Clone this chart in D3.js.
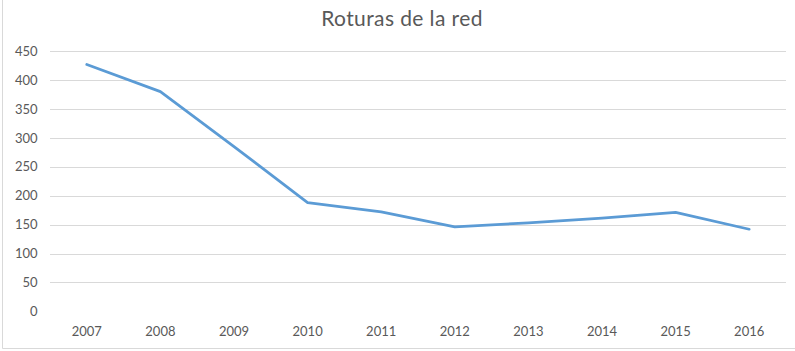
<!DOCTYPE html>
<html>
<head>
<meta charset="utf-8">
<script src="https://cdn.jsdelivr.net/npm/d3@7"></script>
<style>
  html, body { margin: 0; padding: 0; background: #fff; }
  svg { display: block; }
</style>
</head>
<body>
<svg id="chart" width="795" height="351"></svg>
<script>
// Annual network breaks (roturas de la red)
const years = ["2007", "2008", "2009", "2010", "2011", "2012", "2013", "2014", "2015", "2016"];
const roturas = [427, 380, 285, 188, 172, 146, 153, 161, 171, 142];
const yTicks = [0, 50, 100, 150, 200, 250, 300, 350, 400, 450];
const title = "Roturas de la red";

const W = 795, H = 351;
const margin = { left: 50, right: 9, top: 51.2, bottom: 39.7 };
const font = "Lato, 'Open Sans', sans-serif";
const textColor = "#595959";

const svg = d3.select("#chart");

// Outer chart frame (left and bottom edges)
svg.append("path")
  .attr("d", `M2.5,0 V${H - 2.5} H${W}`)
  .attr("fill", "none")
  .attr("stroke", "#d9d9d9")
  .attr("stroke-width", 1);

const x = d3.scaleBand()
  .domain(years)
  .range([margin.left, W - margin.right]);

const y = d3.scaleLinear()
  .domain([0, 450])
  .range([H - margin.bottom, margin.top]);

// Horizontal gridlines (no line at zero)
svg.append("g")
  .selectAll("line")
  .data(yTicks.filter(d => d > 0))
  .join("line")
  .attr("x1", margin.left)
  .attr("x2", W - margin.right)
  .attr("y1", d => Math.round(y(d)) + 0.5)
  .attr("y2", d => Math.round(y(d)) + 0.5)
  .attr("stroke", "#d9d9d9")
  .attr("stroke-width", 1);

// Y axis labels
const yAxis = d3.axisLeft(y).tickValues(yTicks).tickSize(0).tickPadding(12.5);
const gy = svg.append("g")
  .attr("transform", `translate(${margin.left},0)`)
  .call(yAxis);
gy.select(".domain").remove();
gy.selectAll("text")
  .attr("font-family", font)
  .attr("font-size", 13)
  .attr("fill", textColor);

// X axis labels
const xAxis = d3.axisBottom(x).tickSize(0).tickPadding(15.5);
const gx = svg.append("g")
  .attr("transform", `translate(0,${H - margin.bottom})`)
  .call(xAxis);
gx.select(".domain").remove();
gx.selectAll("text")
  .attr("font-family", font)
  .attr("font-size", 13)
  .attr("fill", textColor);

// Series line
const line = d3.line()
  .x((d, i) => x(years[i]) + x.bandwidth() / 2)
  .y(d => y(d));

svg.append("path")
  .datum(roturas)
  .attr("d", line)
  .attr("fill", "none")
  .attr("stroke", "#5b9bd5")
  .attr("stroke-width", 2.75)
  .attr("stroke-linejoin", "round")
  .attr("stroke-linecap", "round");

// Title
svg.append("text")
  .attr("x", 402)
  .attr("y", 26)
  .attr("text-anchor", "middle")
  .attr("font-family", font)
  .attr("font-size", 21)
  .attr("font-weight", 400)
  .attr("letter-spacing", 0.4)
  .attr("fill", textColor)
  .text(title);
</script>
</body>
</html>
